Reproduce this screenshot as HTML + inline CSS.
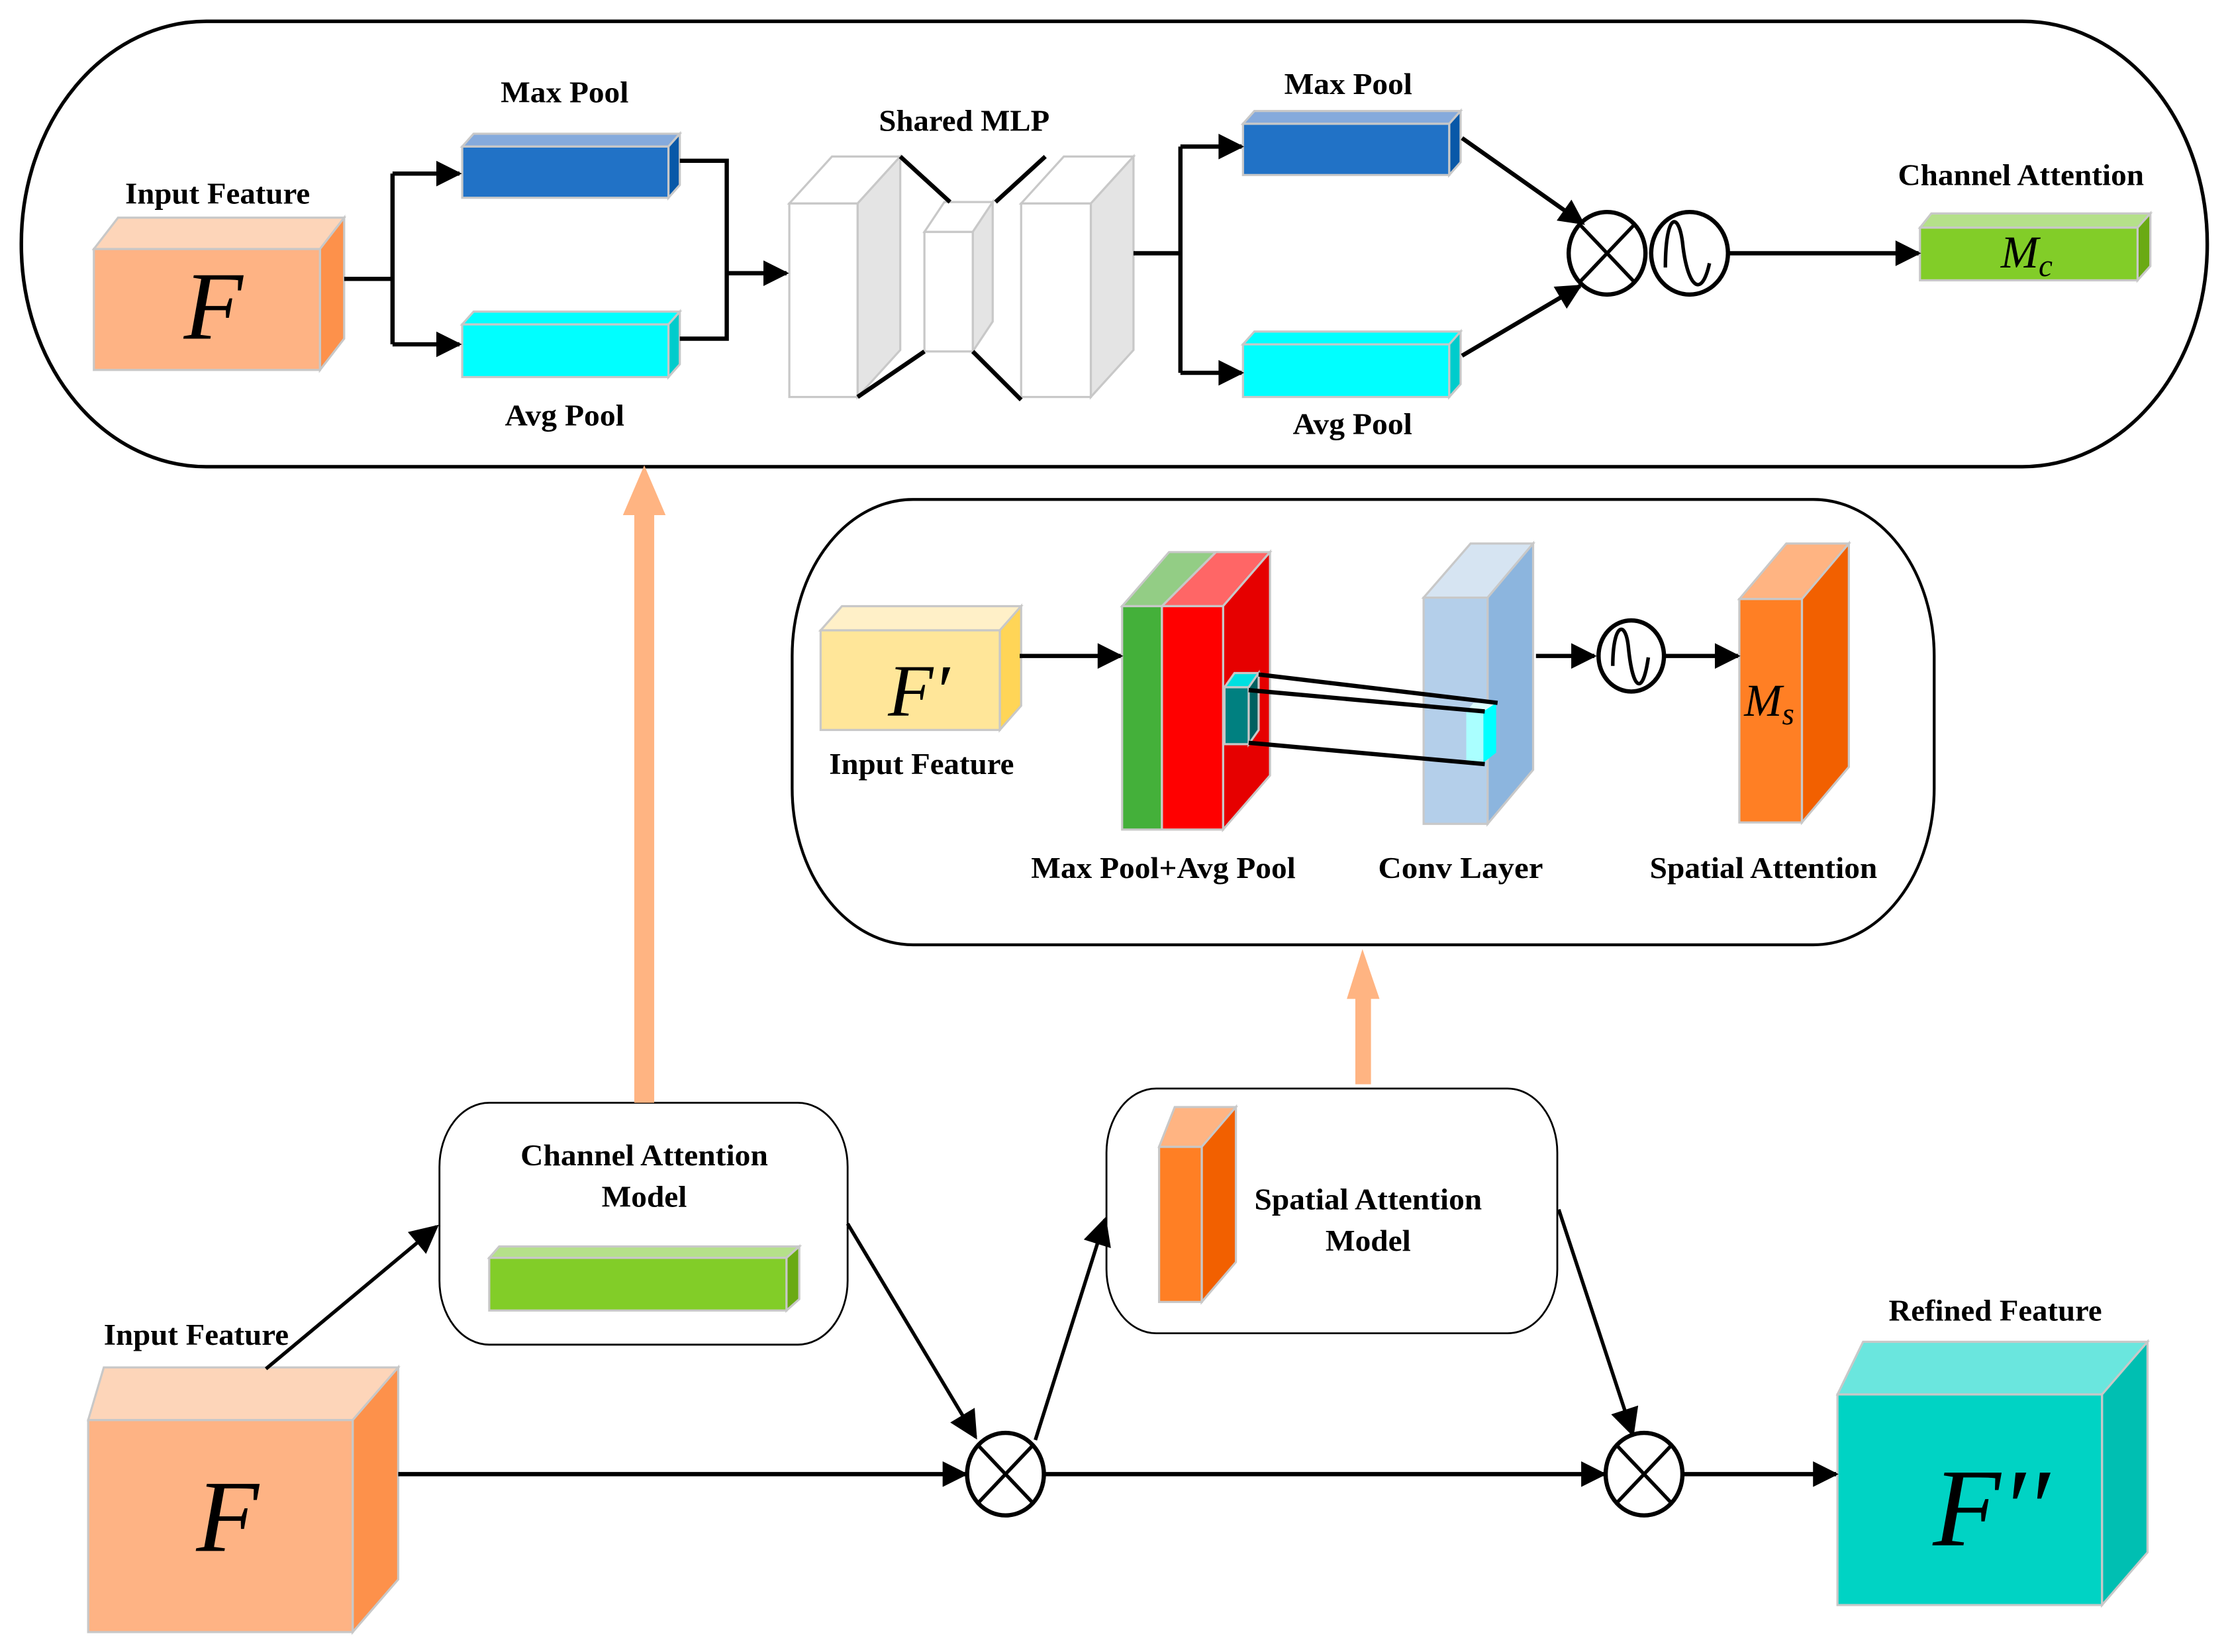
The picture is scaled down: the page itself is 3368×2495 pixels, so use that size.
<!DOCTYPE html>
<html><head><meta charset="utf-8"><style>
html,body{margin:0;padding:0;background:#fff;}
svg{display:block;}
text{font-family:"Liberation Serif",serif;font-weight:bold;fill:#000;}
.it{font-style:italic;font-weight:normal;}
</style></head><body>
<svg width="3368" height="2495" viewBox="0 0 1568 1161" preserveAspectRatio="none" xmlns="http://www.w3.org/2000/svg">
<defs>
<marker id="ah" viewBox="0 0 10 10" refX="9" refY="5" markerWidth="7" markerHeight="6" markerUnits="strokeWidth" orient="auto"><path d="M0,0 L10,5 L0,10 z" fill="#000"/></marker>
<marker id="ah2" viewBox="0 0 10 10" refX="9" refY="5" markerWidth="9" markerHeight="8" markerUnits="strokeWidth" orient="auto"><path d="M0,0 L10,5 L0,10 z" fill="#000"/></marker>
</defs>
<g stroke-linejoin="miter">
<rect x="15" y="15" width="1537" height="313" rx="130" ry="156" fill="none" stroke="#000" stroke-width="2.5"/>
<rect x="557" y="351" width="803" height="313" rx="85" ry="110" fill="none" stroke="#000" stroke-width="2"/>
<rect x="309" y="775" width="287" height="170" rx="35" ry="45" fill="none" stroke="#000" stroke-width="1.3"/>
<rect x="778" y="765" width="317" height="172" rx="35" ry="45" fill="none" stroke="#000" stroke-width="1.3"/>
</g>

<g stroke="#c8c8c8" stroke-width="1.5">
<polygon points="66,175 83,153 242,153 225,175" fill="#fdd5b9"/>
<polygon points="225,175 242,153 242,238 225,260" fill="#fd914b"/>
<rect x="66" y="175" width="159" height="85" fill="#feb384"/>
<polygon points="325,103 333,94 478,94 470,103" fill="#85aadc"/>
<polygon points="470,103 478,94 478,130 470,139" fill="#0858a8"/>
<rect x="325" y="103" width="145" height="36" fill="#2172c6"/>
<polygon points="325,228 333,219 478,219 470,228" fill="#00ffff"/>
<polygon points="470,228 478,219 478,256 470,265" fill="#00cccc"/>
<rect x="325" y="228" width="145" height="37" fill="#00ffff"/>
<polygon points="555,143 585,110 633,110 603,143" fill="#fff"/>
<polygon points="603,143 633,110 633,246 603,279" fill="#e4e4e4"/>
<rect x="555" y="143" width="48" height="136" fill="#fff"/>
<polygon points="650,163 664,142 698,142 684,163" fill="#fff"/>
<polygon points="684,163 698,142 698,226 684,247" fill="#e4e4e4"/>
<rect x="650" y="163" width="34" height="84" fill="#fff"/>
<polygon points="718,143 748,110 797,110 767,143" fill="#fff"/>
<polygon points="767,143 797,110 797,246 767,279" fill="#e4e4e4"/>
<rect x="718" y="143" width="49" height="136" fill="#fff"/>
<polygon points="874,87 882,78 1027,78 1019,87" fill="#85aadc"/>
<polygon points="1019,87 1027,78 1027,114 1019,123" fill="#0858a8"/>
<rect x="874" y="87" width="145" height="36" fill="#2172c6"/>
<polygon points="874,242 882,233 1027,233 1019,242" fill="#00ffff"/>
<polygon points="1019,242 1027,233 1027,270 1019,279" fill="#00cccc"/>
<rect x="874" y="242" width="145" height="37" fill="#00ffff"/>
<polygon points="1350,160 1358,150 1512,150 1503,160" fill="#b5e08a"/>
<polygon points="1503,160 1512,150 1512,187 1503,197" fill="#6aaa14"/>
<rect x="1350" y="160" width="153" height="37" fill="#82cd28"/>
<polygon points="577,443 592,426 718,426 703,443" fill="#fff0c8"/>
<polygon points="703,443 718,426 718,496 703,513" fill="#ffd557"/>
<rect x="577" y="443" width="126" height="70" fill="#ffe699"/>
<polygon points="789,426 822,388 855,388 817,426" fill="#93cd85"/>
<polygon points="817,426 855,388 893,388 860,426" fill="#ff6666"/>
<polygon points="860,426 893,388 893,545 860,583" fill="#e60000"/>
<rect x="789" y="426" width="28" height="157" fill="#44b03a"/>
<rect x="817" y="426" width="43" height="157" fill="#ff0000"/>
<polygon points="861,483 868,473 885,473 878,483" fill="#00e0e0"/>
<polygon points="878,483 885,473 885,513 878,523" fill="#006060"/>
<rect x="861" y="483" width="17" height="40" fill="#008080"/>
<polygon points="1001,420 1034,382 1078,382 1046,420" fill="#d6e4f2"/>
<polygon points="1046,420 1078,382 1078,541 1046,579" fill="#8cb5de"/>
<rect x="1001" y="420" width="45" height="159" fill="#b4cfea"/>
<polygon points="1031,500 1036,494 1052,494 1046,500" fill="#ddffff" stroke="none"/>
<polygon points="1043,500 1052,494 1052,529 1043,536" fill="#00ffff" stroke="none"/>
<rect x="1031" y="500" width="12" height="36" fill="#aaffff" stroke="none"/>
<polygon points="1223,421 1256,382 1300,382 1267,421" fill="#ffb482"/>
<polygon points="1267,421 1300,382 1300,539 1267,578" fill="#f26000"/>
<rect x="1223" y="421" width="44" height="157" fill="#ff7f24"/>
<polygon points="344,884 351,876 562,876 553,884" fill="#b5e08a"/>
<polygon points="553,884 562,876 562,913 553,921" fill="#6aaa14"/>
<rect x="344" y="884" width="209" height="37" fill="#82cd28"/>
<polygon points="815,806 826,778 869,778 845,806" fill="#ffb482"/>
<polygon points="845,806 869,778 869,887 845,915" fill="#f26000"/>
<rect x="815" y="806" width="30" height="109" fill="#ff7f24"/>
<polygon points="62,998 73,961 280,961 248,998" fill="#fdd5b9"/>
<polygon points="248,998 280,961 280,1110 248,1147" fill="#fd914b"/>
<rect x="62" y="998" width="186" height="149" fill="#feb384"/>
<polygon points="1292,980 1310,943 1510,943 1478,980" fill="#6ae6de"/>
<polygon points="1478,980 1510,943 1510,1091 1478,1128" fill="#00bfb2"/>
<rect x="1292" y="980" width="186" height="148" fill="#00d3c4"/>
</g>

<g stroke="#000" stroke-width="3" fill="none">
<polyline points="242,196 276,196"/>
<polyline points="276,122 276,242"/>
<line x1="276" y1="122" x2="323" y2="122" marker-end="url(#ah)"/>
<line x1="276" y1="242" x2="323" y2="242" marker-end="url(#ah)"/>
<polyline points="478,113 511,113 511,238 478,238"/>
<line x1="511" y1="192" x2="553" y2="192" marker-end="url(#ah)"/>
<line x1="633" y1="110" x2="668" y2="142"/>
<line x1="700" y1="142" x2="735" y2="110"/>
<line x1="603" y1="279" x2="650" y2="247"/>
<line x1="684" y1="247" x2="718" y2="281"/>
<polyline points="797,178 830,178"/>
<polyline points="830,103 830,262"/>
<line x1="830" y1="103" x2="873" y2="103" marker-end="url(#ah)"/>
<line x1="830" y1="262" x2="873" y2="262" marker-end="url(#ah)"/>
<line x1="1028" y1="97" x2="1113" y2="157" marker-end="url(#ah)"/>
<line x1="1028" y1="250" x2="1111" y2="201" marker-end="url(#ah)"/>
<ellipse cx="1130" cy="178" rx="27" ry="29"/>
<line x1="1111" y1="158" x2="1149" y2="198" stroke-width="2.5"/>
<line x1="1149" y1="158" x2="1111" y2="198" stroke-width="2.5"/>
<ellipse cx="1188" cy="178" rx="27" ry="29"/>
<path d="M1171,188 C1171,150 1180,148 1183,170 C1186,200 1196,212 1202,185" stroke-width="2.5"/>
<line x1="1216" y1="178" x2="1349" y2="178" marker-end="url(#ah)"/>
<line x1="717" y1="461" x2="788" y2="461" marker-end="url(#ah)"/>
<line x1="885" y1="474" x2="1053" y2="494" stroke-width="3"/>
<line x1="878" y1="485" x2="1044" y2="500" stroke-width="3"/>
<line x1="878" y1="522" x2="1044" y2="537" stroke-width="3"/>
<line x1="1080" y1="461" x2="1121" y2="461" marker-end="url(#ah)"/>
<ellipse cx="1147" cy="461" rx="23" ry="25"/>
<path d="M1134,468 C1134,438 1143,435 1145,455 C1148,485 1155,490 1159,462" stroke-width="2.5"/>
<line x1="1170" y1="461" x2="1222" y2="461" marker-end="url(#ah)"/>
<line x1="187" y1="962" x2="307" y2="862" stroke-width="2.5" marker-end="url(#ah2)"/>
<line x1="280" y1="1036" x2="679" y2="1036" marker-end="url(#ah)"/>
<ellipse cx="707" cy="1036" rx="27" ry="29"/>
<line x1="688" y1="1016" x2="726" y2="1056" stroke-width="2.5"/>
<line x1="726" y1="1016" x2="688" y2="1056" stroke-width="2.5"/>
<line x1="735" y1="1036" x2="1128" y2="1036" marker-end="url(#ah)"/>
<ellipse cx="1156" cy="1036" rx="27" ry="29"/>
<line x1="1137" y1="1016" x2="1175" y2="1056" stroke-width="2.5"/>
<line x1="1175" y1="1016" x2="1137" y2="1056" stroke-width="2.5"/>
<line x1="1184" y1="1036" x2="1291" y2="1036" marker-end="url(#ah)"/>
<line x1="596" y1="860" x2="686" y2="1010" stroke-width="2.5" marker-end="url(#ah2)"/>
<line x1="728" y1="1012" x2="777" y2="857" stroke-width="2.5" marker-end="url(#ah2)"/>
<line x1="1096" y1="850" x2="1148" y2="1008" stroke-width="2.5" marker-end="url(#ah2)"/>
</g>
<rect x="446" y="360" width="14" height="415" fill="#ffb482"/>
<polygon points="438,362 468,362 453,327" fill="#ffb482"/>
<rect x="953" y="700" width="11" height="62" fill="#ffb482"/>
<polygon points="947,702 970,702 958,667" fill="#ffb482"/>

<g font-size="21" text-anchor="middle">
<text x="153" y="143" textLength="130" lengthAdjust="spacingAndGlyphs">Input Feature</text>
<text x="397" y="72" textLength="90" lengthAdjust="spacingAndGlyphs">Max Pool</text>
<text x="397" y="299" textLength="84" lengthAdjust="spacingAndGlyphs">Avg Pool</text>
<text x="678" y="92" textLength="120" lengthAdjust="spacingAndGlyphs">Shared MLP</text>
<text x="948" y="66" textLength="90" lengthAdjust="spacingAndGlyphs">Max Pool</text>
<text x="951" y="305" textLength="84" lengthAdjust="spacingAndGlyphs">Avg Pool</text>
<text x="1421" y="130" textLength="173" lengthAdjust="spacingAndGlyphs">Channel Attention</text>
<text x="648" y="544" textLength="130" lengthAdjust="spacingAndGlyphs">Input Feature</text>
<text x="818" y="617" textLength="186" lengthAdjust="spacingAndGlyphs">Max Pool+Avg Pool</text>
<text x="1027" y="617" textLength="116" lengthAdjust="spacingAndGlyphs">Conv  Layer</text>
<text x="1240" y="617" textLength="160" lengthAdjust="spacingAndGlyphs">Spatial Attention</text>
<text x="453" y="819" textLength="174" lengthAdjust="spacingAndGlyphs">Channel Attention</text>
<text x="453" y="848" textLength="60" lengthAdjust="spacingAndGlyphs">Model</text>
<text x="962" y="850" textLength="160" lengthAdjust="spacingAndGlyphs">Spatial Attention</text>
<text x="962" y="879" textLength="60" lengthAdjust="spacingAndGlyphs">Model</text>
<text x="138" y="945" textLength="130" lengthAdjust="spacingAndGlyphs">Input Feature</text>
<text x="1403" y="928" textLength="150" lengthAdjust="spacingAndGlyphs">Refined Feature</text>
</g>
<g text-anchor="middle">
<text class="it" x="150" y="238" font-size="68">F</text>
<text class="it" x="646" y="503" font-size="52">F′</text>
<text class="it" x="1425" y="188" font-size="32">M<tspan font-size="22" dy="6">c</tspan></text>
<text class="it" x="1244" y="503" font-size="32">M<tspan font-size="22" dy="6">s</tspan></text>
<text class="it" x="160" y="1090" font-size="72">F</text>
<text class="it" x="1400" y="1086" font-size="78">F′′</text>
</g>
</svg>
</body></html>
